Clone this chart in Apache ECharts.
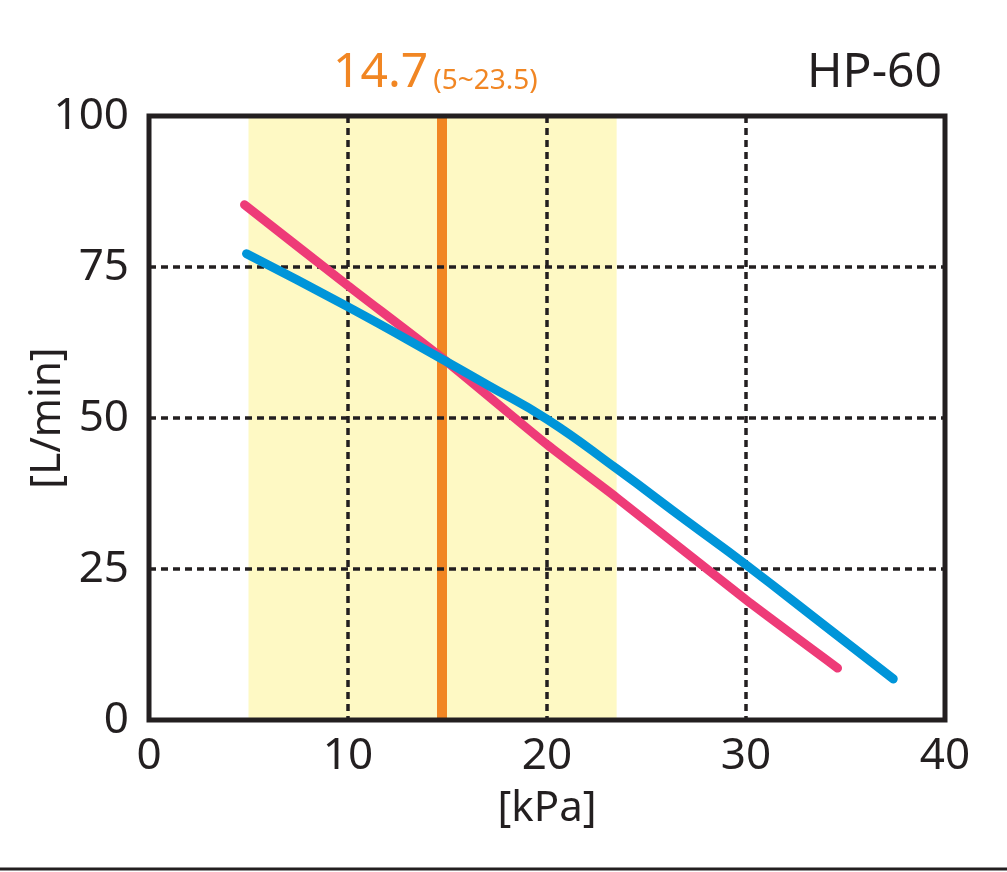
<!DOCTYPE html>
<html>
<head>
<meta charset="utf-8">
<script src="https://cdn.jsdelivr.net/npm/echarts@6/dist/echarts.min.js"></script>
<style>
body { margin: 0; background: #fff; }
#chart { width: 1007px; height: 872px; }
</style>
</head>
<body>
<div id="chart"></div>
<script type="text/javascript">
// pressure [kPa] vs flow [L/min]
var pinkCurve = [[4.8, 85.3], [10, 71.9], [14.7, 60.0], [20, 45.6], [23.5, 36.8], [30, 19.9], [34.6, 8.6]];
var blueCurve = [[4.9, 77.2], [10, 68.4], [14.7, 59.8], [17, 55.5], [20, 49.8], [23.5, 41.6], [27, 33.0], [30, 25.7], [34, 15.5], [37.4, 6.8]];
var ratedValue = 14.7;
var rangeLow = 5;
var rangeHigh = 23.5;
var xTicks = [0, 10, 20, 30, 40];
var yTicks = [0, 25, 50, 75, 100];
var modelName = 'HP-60';

var ink = '#231f20';
var font = 'Noto Sans';

var myChart = echarts.init(document.getElementById('chart'));

var option = {
    backgroundColor: '#fff',
    animation: false,
    title: [
        {
            text: '{a|' + ratedValue + '} {b|(' + rangeLow + '~' + rangeHigh + ')}',
            left: 328,
            top: 44,
            textStyle: {
                rich: {
                    a: { fontFamily: font, fontSize: 48, fontWeight: 'normal', color: '#f18623' },
                    b: { fontFamily: font, fontSize: 28, fontWeight: 'normal', color: '#f18623', verticalAlign: 'bottom', padding: [0, 0, 2, 0] }
                }
            }
        },
        {
            text: modelName,
            right: 60,
            top: 44,
            textStyle: { fontFamily: font, fontSize: 48, fontWeight: 'normal', color: ink }
        }
    ],
    grid: {
        left: 149,
        right: 62,
        top: 116,
        bottom: 152,
        outerBoundsMode: 'none',
        containLabel: false,
        show: true,
        borderColor: ink,
        borderWidth: 5,
        backgroundColor: 'transparent',
        z: 6
    },
    xAxis: {
        type: 'value',
        z: 2,
        min: xTicks[0],
        max: xTicks[xTicks.length - 1],
        interval: 10,
        name: '[kPa]',
        nameLocation: 'middle',
        nameGap: 68,
        nameMoveOverlap: false,
        nameTextStyle: { fontFamily: font, fontSize: 42, color: ink },
        axisLine: { show: false },
        axisTick: { show: false },
        axisLabel: { fontFamily: font, fontSize: 44, color: ink, margin: 14 },
        splitLine: {
            show: true,
            showMinLine: false,
            showMaxLine: false,
            lineStyle: { color: ink, width: 3.5, type: [7, 5] }
        }
    },
    yAxis: {
        type: 'value',
        z: 2,
        min: yTicks[0],
        max: yTicks[yTicks.length - 1],
        interval: 25,
        name: '[L/min]',
        nameLocation: 'middle',
        nameGap: 80,
        nameMoveOverlap: false,
        nameRotate: 90,
        nameTextStyle: { fontFamily: font, fontSize: 42, color: ink },
        axisLine: { show: false },
        axisTick: { show: false },
        axisLabel: { fontFamily: font, fontSize: 44, color: ink, margin: 20 },
        splitLine: {
            show: true,
            showMinLine: false,
            showMaxLine: false,
            lineStyle: { color: ink, width: 3.5, type: [7, 5] }
        }
    },
    series: [
        {
            name: 'range',
            type: 'line',
            data: [],
            silent: true,
            z: 1,
            markArea: {
                silent: true,
                z: 0,
                itemStyle: { color: '#fef9c4' },
                data: [[{ xAxis: rangeLow }, { xAxis: rangeHigh }]]
            },
            markLine: {
                silent: true,
                z: 1,
                symbol: 'none',
                label: { show: false },
                lineStyle: { color: '#f18623', width: 10, type: 'solid' },
                data: [{ xAxis: ratedValue }]
            }
        },
        {
            name: 'pink',
            type: 'line',
            data: pinkCurve,
            smooth: 0.2,
            showSymbol: false,
            lineStyle: { color: '#ee3b78', width: 9, cap: 'round' },
            z: 3
        },
        {
            name: 'blue',
            type: 'line',
            data: blueCurve,
            smooth: 0.5,
            showSymbol: false,
            lineStyle: { color: '#0095d9', width: 9, cap: 'round' },
            z: 4
        }
    ],
    graphic: [
        {
            type: 'line',
            shape: { x1: 0, y1: 869, x2: 1007, y2: 869 },
            style: { stroke: ink, lineWidth: 3 }
        }
    ]
};

myChart.setOption(option);
</script>
</body>
</html>
